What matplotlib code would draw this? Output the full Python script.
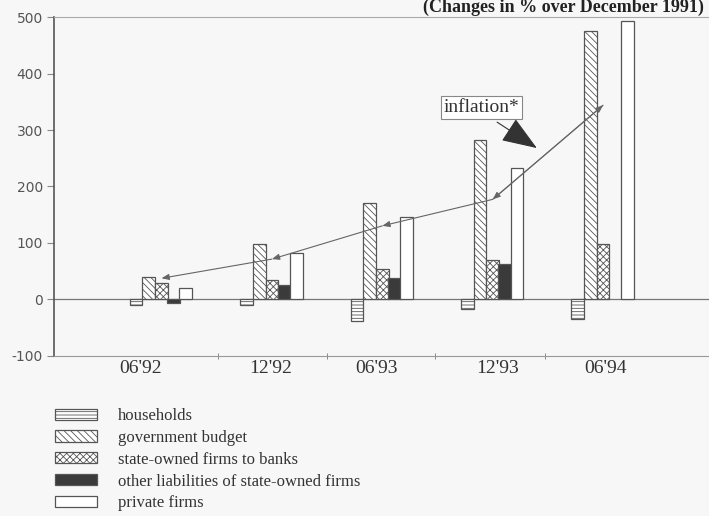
import matplotlib.pyplot as plt
import numpy as np

# values (changes in % over December 1991)
periods = ["06'92", "12'92", "06'93", "12'93", "06'94"]
households = [-10, -10, -38, -17, -35]
government_budget = [40, 98, 170, 282, 475]
state_firms_banks = [28, 34, 54, 70, 97]
other_liabilities = [-7, 25, 38, 62, 0]
private_firms = [20, 82, 145, 232, 493]
inflation = [37, 71, 130, 177, 344]

series_names = ['households', 'government budget', 'state-owned firms to banks',
                'other liabilities of state-owned firms', 'private firms']

plt.rcParams['hatch.linewidth'] = 0.6
plt.rcParams['axes.unicode_minus'] = False
bg = '#f7f7f7'
ec = '#555555'

fig = plt.figure(figsize=(7.09, 5.16), dpi=100, facecolor=bg)
ax = fig.add_axes([54 / 709, 1 - 355.5 / 516, 655 / 709, 338.2 / 516], facecolor=bg)

x = np.arange(len(periods))
offsets = [-0.23, -0.115, 0.0, 0.11, 0.22]
width = 0.115
styles = [
    dict(facecolor='white', hatch='-----'),
    dict(facecolor='white', hatch='\\\\\\\\\\'),
    dict(facecolor='white', hatch='xxxxx'),
    dict(facecolor='#3a3a3a', hatch=None),
    dict(facecolor='white', hatch=None),
]
data = [households, government_budget, state_firms_banks, other_liabilities, private_firms]

handles = []
for vals, off, st, name in zip(data, offsets, styles, series_names):
    mask = np.array(vals) != 0
    b = ax.bar(x[mask] + off, np.array(vals)[mask], width, edgecolor=ec,
               linewidth=0.9, label=name, **st)
    handles.append(b)

ax.axhline(0, color='#777777', lw=0.9, zorder=0.5)

# inflation arrows
pts = list(zip(x, inflation))
head = '-|>,head_length=0.45,head_width=0.18'
for i in range(len(pts) - 1):
    ax.annotate('', xy=pts[i], xytext=pts[i + 1],
                arrowprops=dict(arrowstyle=head, color='#666666', lw=0.8,
                                shrinkA=0, shrinkB=0, mutation_scale=10))
ax.annotate('', xy=pts[-1], xytext=pts[-2],
            arrowprops=dict(arrowstyle=head, color='#666666', lw=0.8,
                            shrinkA=0, shrinkB=0, mutation_scale=10))

ax.text(2.90, 340, 'inflation*', family='Liberation Serif', fontsize=14,
        ha='center', va='center', color='#333333',
        bbox=dict(boxstyle='square,pad=0.15', facecolor='white', edgecolor='#888888', lw=0.8))
ax.annotate('', xy=(3.40, 268), xytext=(3.04, 314),
            arrowprops=dict(arrowstyle='-|>,head_length=1.6,head_width=0.6',
                            color='#333333', lw=0.8, shrinkA=0, shrinkB=0,
                            mutation_scale=14))

ax.set_xlim((54 - 161.5) / 110.4, (709 - 161.5) / 110.4)
ax.set_ylim(-100, 500)
ax.set_yticks(range(-100, 501, 100))
ax.tick_params(axis='y', direction='out', length=5, color='#888888',
               labelcolor='#555555', labelsize=10, pad=3)

ax.set_xticks([-0.19, 0.99, 1.95, 3.04, 4.02])
ax.set_xticklabels(periods, family='Liberation Serif', fontsize=14, color='#333333')
ax.tick_params(axis='x', length=0, pad=3)
ax.set_xticks([0.51, 1.50, 2.48, 3.47], minor=True)
ax.tick_params(axis='x', which='minor', direction='inout', length=5, color='#777777')

ax.spines['right'].set_visible(False)
ax.spines['top'].set_color('#aaaaaa')
ax.spines['bottom'].set_color('#999999')
ax.spines['left'].set_color('#555555')
ax.spines['left'].set_linewidth(1.2)

fig.text(704 / 709, 1 - 12 / 516, '(Changes in % over December 1991)',
         family='Liberation Serif', fontsize=13, fontweight='bold',
         va='baseline', ha='right', color='#222222')

fig.legend(handles=handles, labels=series_names, loc='upper left',
           bbox_to_anchor=(55 / 709, 1 - 408 / 516), frameon=False,
           prop=dict(family='Liberation Serif', size=12),
           handlelength=2.5, handleheight=0.65, handletextpad=1.25,
           labelspacing=0.35, borderpad=0, borderaxespad=0, labelcolor='#333333')

fig.savefig('out.png', dpi=100, facecolor=bg)
